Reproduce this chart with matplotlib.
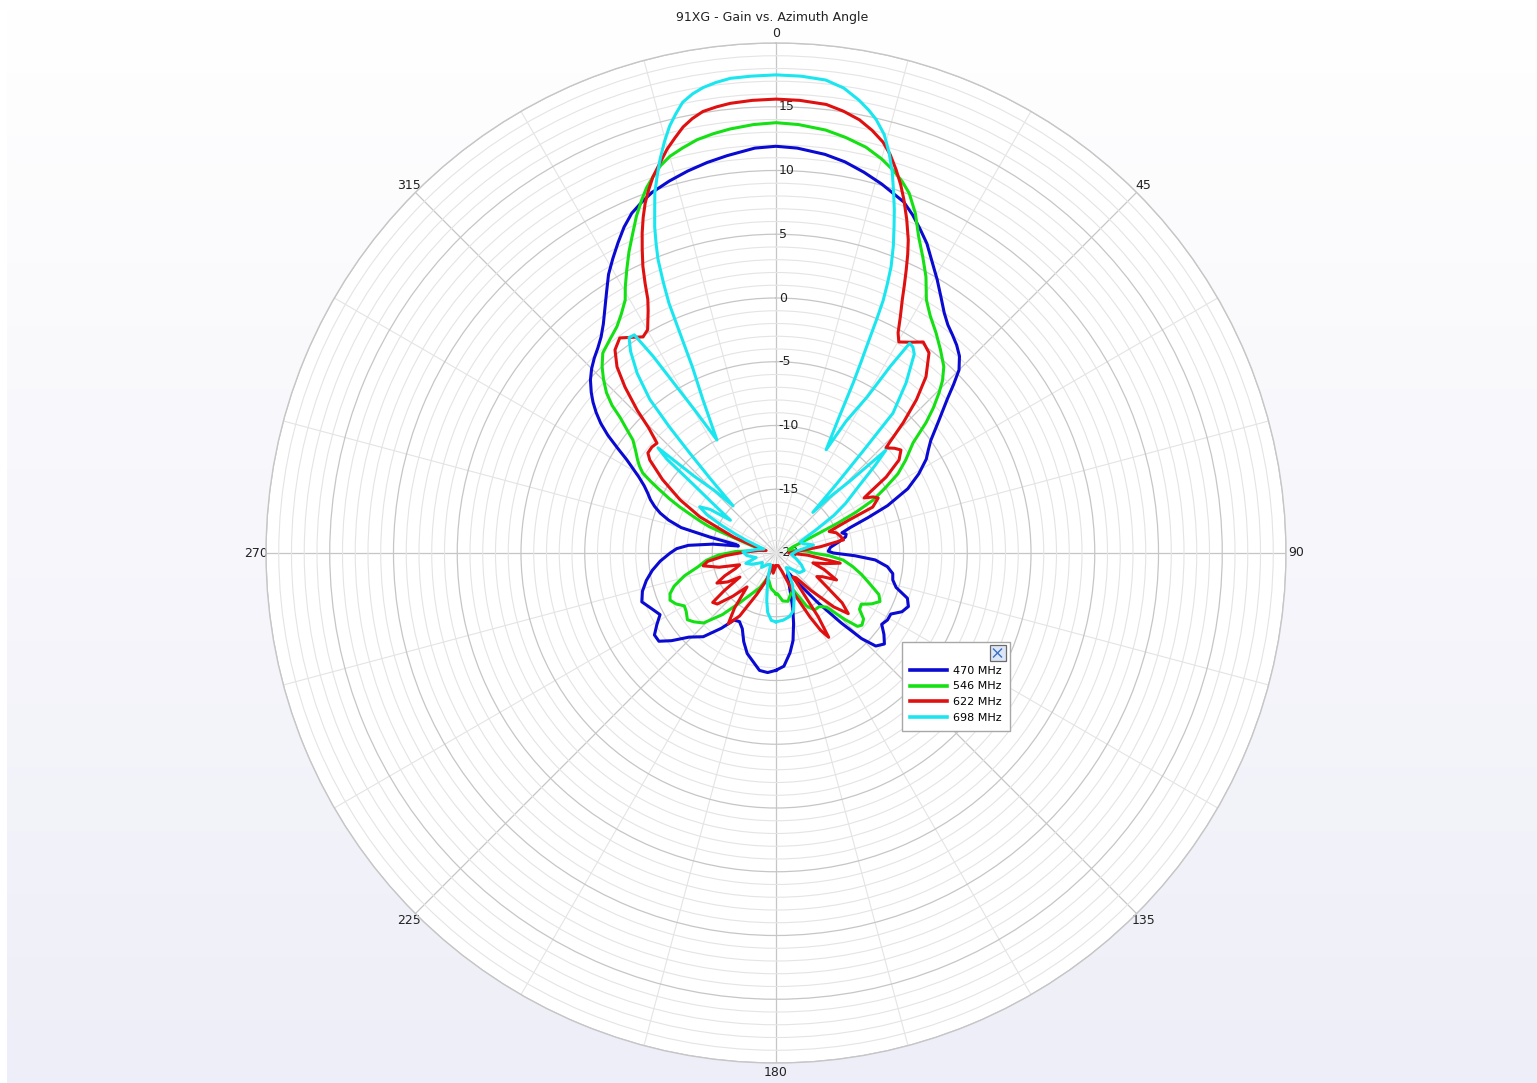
import numpy as np
import matplotlib
matplotlib.use("Agg")
import matplotlib.pyplot as plt
from matplotlib.patches import Rectangle
from matplotlib.lines import Line2D

title = "91XG - Gain vs. Azimuth Angle"
freq_labels = ["470 MHz", "546 MHz", "622 MHz", "698 MHz"]
line_colors = ["#0a0ad2", "#14e014", "#e01010", "#1ae6f0"]

# (azimuth deg, gain dB) for each frequency
pat_470 = [(-180, -10.8), (-176, -10.6), (-172, -10.7), (-168, -11.3), (-164, -11.8), (-160, -12.6),
           (-156, -13.5), (-152, -13.9), (-148, -13.8), (-144, -12.7), (-139, -11.3), (-134, -10.5),
           (-130, -9.3), (-127, -8.5), (-124, -8.5), (-121, -9.1), (-118, -9.7), (-114, -9.3),
           (-110, -8.8), (-106, -9.1), (-102, -9.6), (-98, -10.2), (-94, -10.9), (-90, -11.7),
           (-87.5, -12.2), (-85, -13.1), (-82, -15.0), (-79.5, -17.0), (-78, -16.8), (-76.5, -14.7),
           (-75, -12.3), (-73, -11.2), (-71, -10.4), (-69, -9.8), (-67, -9.3), (-65, -8.9),
           (-63, -8.4), (-61, -7.7), (-59.5, -7.0), (-58, -6.2), (-56.5, -5.1), (-55, -3.9),
           (-53.5, -2.9), (-52, -2.1), (-50.5, -1.4), (-49, -0.8), (-47, -0.1), (-45, 0.45),
           (-43, 0.9), (-41, 1.3), (-39, 1.8), (-37, 2.5), (-35, 3.4), (-33, 4.4),
           (-31, 5.5), (-29, 6.4), (-27, 7.3), (-25, 8.2), (-23, 8.95), (-21, 9.45),
           (-19, 9.9), (-16, 10.35), (-13, 10.75), (-10, 11.1), (-7, 11.4), (-3, 11.8),
           (0, 11.9), (3, 11.8), (7, 11.5), (10, 11.15), (13, 10.65), (16, 10.1),
           (20, 9.3), (22, 8.6), (24, 7.8), (26, 7.0), (28, 6.0), (30.5, 4.9),
           (33, 3.8), (35, 3.0), (37, 2.4), (39, 2.0), (41, 1.6), (43, 1.1),
           (45, 0.3), (46.5, -0.8), (48, -1.9), (51, -3.6), (54, -5.0), (56, -5.6),
           (58, -6.1), (61, -7.2), (64, -8.5), (67, -10.5), (69, -12.3), (71, -13.8),
           (73, -14.6), (75, -14.3), (77, -14.4), (80, -15.0), (84, -15.7), (88, -15.9),
           (90, -15.5), (92, -13.8), (94, -12.2), (97, -11.2), (100, -10.7), (103, -10.6),
           (106, -10.2), (109, -9.1), (112, -8.8), (115, -9.1), (118, -9.8), (121, -9.8),
           (124, -10.0), (127, -9.4), (130, -8.9), (133, -9.3), (135, -10.5), (137, -12.5),
           (140, -15.0), (144, -17.2), (148, -18.2), (153, -18.0), (157, -17.4), (160, -16.7),
           (163, -15.5), (166, -14.3), (169, -13.0), (172, -12.1), (176, -11.1), (180, -10.8)]

pat_546 = [(-180, -16.8), (-172, -17.2), (-165, -17.8), (-160, -17.8), (-155, -17.0), (-150, -16.4),
           (-144, -15.2), (-139, -13.6), (-134, -12.1), (-130, -11.6), (-127, -11.3), (-123, -11.6),
           (-120, -11.7), (-117, -11.2), (-114, -10.9), (-111, -11.1), (-108, -11.6), (-104, -12.6),
           (-100, -13.8), (-96, -14.5), (-92, -15.5), (-88, -16.8), (-83, -18.4), (-78, -19.0),
           (-73, -18.0), (-70, -16.4), (-68.5, -14.4), (-67.3, -13.6), (-66, -12.8), (-64.4, -11.6),
           (-63, -10.6), (-61.5, -9.6), (-60.3, -8.7), (-59, -7.8), (-57.5, -7.3), (-56, -6.9),
           (-54, -6.4), (-51.7, -5.7), (-50.5, -4.9), (-49, -3.8), (-48, -2.7), (-46.6, -1.7),
           (-44.8, -0.8), (-43, 0.0), (-40.9, 0.75), (-38, 1.2), (-35.1, 1.7), (-33, 2.3),
           (-30.8, 3.1), (-29.5, 4.0), (-27.8, 5.1), (-26, 6.3), (-24.1, 7.5), (-22.5, 8.6),
           (-20.8, 9.64), (-19.5, 10.4), (-18.1, 11.05), (-16.6, 11.7), (-15, 12.2), (-13, 12.6),
           (-10.8, 13.0), (-8.5, 13.25), (-6.2, 13.45), (-3, 13.65), (0, 13.75), (3, 13.65),
           (6.7, 13.4), (9.5, 13.05), (12.5, 12.6), (15, 12.0), (17, 11.4), (18.7, 10.8),
           (20.3, 10.1), (22.3, 8.8), (24.3, 7.2), (26.4, 5.9), (28.5, 4.65), (30.7, 3.1),
           (33, 2.2), (36, 1.35), (39, 0.5), (42, -0.33), (44, -1.2), (45.5, -2.07),
           (47.3, -3.2), (49, -4.4), (51.2, -6.2), (54.4, -7.5), (57, -8.6), (59, -9.9),
           (61.4, -11.3), (63, -13.0), (64.2, -14.6), (66, -17.0), (70, -18.6), (76, -19.0),
           (82, -18.5), (87, -17.5), (90, -17.1), (93, -15.8), (96, -14.7), (100, -13.9),
           (104, -13.1), (108, -12.3), (112, -11.3), (115, -11.0), (118, -11.5), (121, -12.2),
           (124, -12.1), (127, -11.4), (130, -11.2), (132, -11.4), (134, -12.5), (137, -14.2),
           (141, -14.6), (146, -14.6), (150, -15.2), (155, -16.8), (160, -16.6), (166, -16.1),
           (172, -16.2), (178, -16.8), (180, -16.8)]

pat_622 = [(-180, -19.0), (-172, -18.4), (-166, -19.0), (-160, -17.6), (-155, -16.4), (-150, -14.3),
           (-146, -13.3), (-143, -14.6), (-139.5, -16.5), (-135, -15.2), (-131, -13.9), (-128, -13.7),
           (-126, -15.0), (-123.7, -16.6), (-121, -15.6), (-117, -14.8), (-114, -15.6), (-111, -16.6),
           (-108, -17.0), (-104, -15.4), (-100, -14.2), (-97, -14.6), (-93, -16.0), (-88, -17.6),
           (-82, -18.6), (-76, -19.2), (-72, -18.0), (-69.5, -16.5), (-67.8, -15.8), (-64.6, -13.4),
           (-61, -11.4), (-57.1, -9.4), (-53.6, -7.7), (-52, -7.25), (-49.5, -7.2), (-47.3, -7.3),
           (-45.5, -6.0), (-44.2, -4.4), (-42.3, -2.4), (-40.5, -0.8), (-38.4, 0.33), (-36, 0.85),
           (-34, 0.4), (-31.6, -0.1), (-29.9, 0.2), (-28.9, 0.8), (-27.8, 1.5), (-26.8, 2.3),
           (-25.9, 3.5), (-24.9, 4.8), (-23.8, 6.0), (-22.7, 7.2), (-21.6, 8.3), (-20.5, 9.3),
           (-19.3, 10.2), (-18.1, 11.05), (-16.6, 11.9), (-15.1, 12.8), (-13.7, 13.5), (-12.3, 14.2),
           (-10.9, 14.7), (-9.4, 15.1), (-7.6, 15.3), (-5.8, 15.45), (-3, 15.55), (0, 15.6),
           (3, 15.55), (6.4, 15.4), (8.7, 15.05), (10.9, 14.6), (12.8, 14.0), (14.6, 13.3),
           (16, 12.5), (17.4, 11.5), (18.7, 10.5), (19.9, 9.47), (21.4, 8.1), (22.9, 6.66),
           (23.8, 5.6), (24.7, 4.44), (25.6, 3.3), (26.5, 2.2), (27.8, 0.9), (29, -0.25),
           (30.2, -0.85), (32.5, -0.4), (34.9, 0.18), (37.4, -0.24), (40.4, -1.85), (42.5, -3.7),
           (44.3, -5.7), (45.8, -7.6), (46.3, -8.07), (48.5, -7.6), (50.5, -7.3), (52.9, -7.9),
           (55.4, -9.5), (57.2, -11.3), (58, -11.85), (60, -11.2), (61.7, -10.9), (64.6, -11.6),
           (65.7, -13.7), (68, -15.5), (71.6, -15.0), (75, -14.8), (79, -14.6), (82, -16.5),
           (86, -18.5), (90, -19.0), (94, -17.5), (99, -14.9), (102, -16.0), (105, -17.0),
           (109, -16.0), (114, -14.8), (117, -15.9), (120, -16.3), (123.7, -15.2), (127, -13.5),
           (130, -12.6), (133, -13.8), (137, -16.0), (141, -17.5), (144.7, -17.7), (146.5, -14.0),
           (148, -12.2), (150, -13.0), (152, -14.3), (156, -16.5), (162, -18.5), (170, -19.0),
           (180, -19.0)]

pat_698 = [(-180, -14.6), (-176, -14.7), (-172, -15.3), (-169, -16.2), (-165, -17.4), (-161, -18.2),
           (-155, -19.0), (-145, -18.9), (-135, -18.4), (-125, -18.7), (-115, -17.9), (-109, -17.5),
           (-103, -18.4), (-95, -17.7), (-88, -17.4), (-80, -18.4), (-72, -19.0), (-67, -17.5),
           (-65, -16.5), (-63, -15.2), (-61, -13.8), (-58.8, -13.0), (-56.5, -13.8), (-54.3, -15.6),
           (-52, -13.8), (-50.3, -11.5), (-49.3, -8.7), (-48.3, -7.6), (-46.8, -11.2), (-44.5, -13.2),
           (-42.3, -15.0), (-41.5, -12.3), (-40.8, -9.6), (-40.2, -7.0), (-39.4, -4.4), (-37.7, -2.2),
           (-35.8, -0.5), (-34.3, 0.45), (-33.0, 0.4), (-32.0, -1.8), (-31.0, -4.5), (-29.5, -7.3),
           (-27.6, -10.0), (-25.5, -6.7), (-24.2, -4.0), (-23.6, -1.2), (-23.2, 1.3), (-22.6, 3.0),
           (-21.9, 4.8), (-21.2, 6.0), (-20.4, 7.3), (-19.5, 8.5), (-18.6, 9.8), (-17.5, 11.0),
           (-16.4, 12.2), (-15.2, 13.4), (-14, 14.5), (-12.9, 15.3), (-11.7, 16.1), (-10.3, 16.6),
           (-8.9, 16.95), (-7.3, 17.2), (-5.5, 17.4), (-3, 17.45), (0, 17.5), (3, 17.45),
           (6, 17.3), (8.3, 16.85), (10.4, 16.1), (11.8, 15.5), (13, 14.9), (14.5, 13.9),
           (15.8, 12.6), (17, 11.2), (18.1, 9.7), (19, 8.5), (19.9, 7.2), (20.9, 5.8),
           (21.9, 4.2), (22.5, 2.8), (23, 1.5), (23.3, 0.0), (23.6, -1.8), (24.0, -3.6),
           (24.4, -5.3), (24.9, -8.2), (25.9, -11.0), (28, -8.3), (30.3, -5.8), (31.5, -2.8),
           (32.5, -0.5), (33.6, -0.6), (34.8, -1.0), (37.4, -3.2), (39.9, -5.7), (40.5, -9.5),
           (41.2, -12.6), (42.2, -15.7), (44, -13.8), (45.8, -11.9), (46.9, -8.2), (48.5, -9.6),
           (51, -11.6), (54.5, -13.3), (57, -14.6), (60, -16.4), (65, -17.9), (70, -17.8),
           (78, -17.0), (85, -18.4), (95, -18.8), (105, -18.4), (115, -17.8), (122, -17.4),
           (130, -17.6), (138, -18.4), (145, -18.6), (152, -17.3), (158, -16.2), (163, -15.3),
           (168, -14.9), (174, -14.7), (180, -14.6)]

patterns = [pat_470, pat_546, pat_622, pat_698]

W, H = 1537, 1083
fig = plt.figure(figsize=(W / 100, H / 100), dpi=100)
fig.patch.set_facecolor("white")

# soft vertical gradient behind everything
bg = fig.add_axes([7 / W, 0, 1 - 7 / W, 1 - 6 / H], zorder=-10)
grad = np.linspace(0, 1, 256).reshape(-1, 1)
top = np.array([1.0, 1.0, 1.0])
bot = np.array([238, 238, 248]) / 255
img = top + (bot - top) * grad[..., None] * np.ones((1, 1, 3))
bg.imshow(img, aspect="auto", extent=[0, 1, 0, 1], origin="upper")
bg.axis("off")

cx, cy, R = 776, 553, 510
ax = fig.add_axes([(cx - R) / W, (H - cy - R) / H, 2 * R / W, 2 * R / H], projection="polar")
ax.set_theta_zero_location("N")
ax.set_theta_direction(-1)
ax.set_facecolor("white")
ax.set_ylim(-20, 20)

ax.set_xticks(np.deg2rad(np.arange(0, 360, 45)))
ax.set_xticklabels([str(a) for a in range(0, 360, 45)], fontsize=9, color="#222222")
ax.set_xticks(np.deg2rad(np.arange(0, 360, 15)), minor=True)
ax.set_yticks(np.arange(-20, 21, 5))
ax.set_yticklabels([])
ax.set_yticks(np.arange(-20, 21, 1), minor=True)
ax.tick_params(axis="both", which="both", length=0)
ax.tick_params(axis="x", pad=0)
ax.grid(which="major", color="#c6c6c6", linewidth=0.9)
ax.grid(which="minor", color="#e4e4e4", linewidth=0.8)
ax.spines["polar"].set_color("#c6c6c6")
ax.spines["polar"].set_linewidth(1.0)

for v in range(-20, 20, 5):
    ax.annotate(str(v), xy=(0, v), xytext=(2.0, 0), textcoords="offset points",
                ha="left", va="center", fontsize=9, color="#222222", zorder=2.5)

for pat, lab, col in zip(patterns, freq_labels, line_colors):
    ang = np.deg2rad([p[0] for p in pat])
    gain = [p[1] for p in pat]
    ax.plot(ang, gain, color=col, linewidth=2.2, label=lab, zorder=3,
            solid_joinstyle="round")

fig.text(772 / W, 1 - 18 / H, title, ha="center", va="center", fontsize=9, color="#222222")

leg = ax.legend(loc="upper left", bbox_to_anchor=(902 / W, 1 - 642 / H),
                bbox_transform=fig.transFigure, fontsize=8, title=" ", title_fontsize=7,
                frameon=True, fancybox=False, edgecolor="#a8a8a8", framealpha=1,
                handlelength=3.3, handletextpad=0.5, labelspacing=0.5,
                borderpad=0.75, borderaxespad=0)
leg.get_frame().set_linewidth(1.0)
for h in leg.legend_handles:
    h.set_linewidth(2.6)

# close button in the legend corner
fig.canvas.draw()
bb = leg.get_window_extent()
bx0, by0 = bb.x1 - 20, bb.y1 - 19
fig.patches.append(Rectangle((bx0 / W, by0 / H), 16 / W, 16 / H, transform=fig.transFigure,
                             facecolor="#dce6f4", edgecolor="#6a6a6a", linewidth=0.9, zorder=20))
fig.lines.append(Line2D([(bx0 + 4) / W, (bx0 + 12) / W], [(by0 + 4) / H, (by0 + 12) / H],
                        transform=fig.transFigure, color="#3a6fc8", linewidth=1.0, zorder=21))
fig.lines.append(Line2D([(bx0 + 4) / W, (bx0 + 12) / W], [(by0 + 12) / H, (by0 + 4) / H],
                        transform=fig.transFigure, color="#3a6fc8", linewidth=1.0, zorder=21))

fig.savefig("out.png", dpi=100)
